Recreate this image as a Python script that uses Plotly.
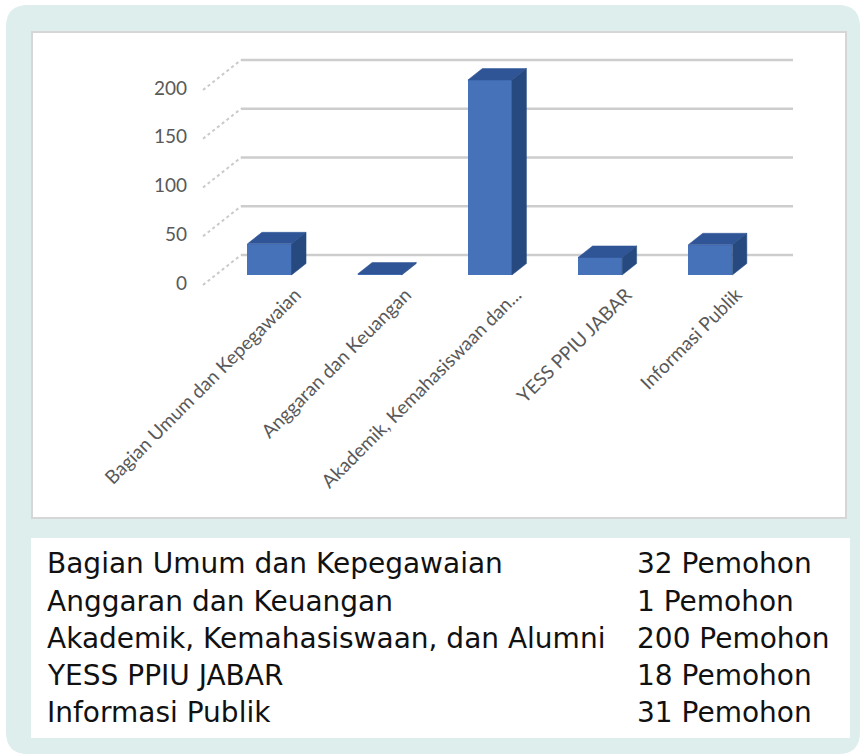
import plotly.graph_objects as go

# ---------------- data ----------------
categories = [
    "Bagian Umum dan Kepegawaian",
    "Anggaran dan Keuangan",
    "Akademik, Kemahasiswaan, dan Alumni",
    "YESS PPIU JABAR",
    "Informasi Publik",
]
axis_labels = [
    "Bagian Umum dan Kepegawaian",
    "Anggaran dan Keuangan",
    "Akademik, Kemahasiswaan dan...",
    "YESS PPIU JABAR",
    "Informasi Publik",
]
values = [32, 1, 200, 18, 31]
y_ticks = [0, 50, 100, 150, 200]
unit = "Pemohon"

# ---------------- layout constants (pixels) ----------------
W, H = 864, 756
L, R, T, B = 196, 800, 40, 292          # plot area
X0_PX, X_STEP = 269.5, 110.2            # category 0 centre, px per category
Y0_PX, Y_SCALE = 275.0, 0.975           # value 0 baseline, px per unit

x_range = [(L - X0_PX) / X_STEP, (R - X0_PX) / X_STEP]
y_range = [(Y0_PX - B) / Y_SCALE, (Y0_PX - T) / Y_SCALE]

BAR_W = 0.40
DEPTH_X = 14.5 / X_STEP
DEPTH_Y = 11.5 / Y_SCALE
GRID_X0 = (241 - X0_PX) / X_STEP
GRID_X1 = (793 - X0_PX) / X_STEP
GRID_DY = 20.0 / Y_SCALE
DIAG_DX = -38.0 / X_STEP
DIAG_DY = -30.0 / Y_SCALE

FRONT = "#4672BA"
TOP = "#2F5597"
SIDE = "#264A80"
TEAL = "#DDEEEC"


def pxx(px):
    return (px - L) / (R - L)


def pxy(py):
    return (B - py) / (B - T)


fig = go.Figure()

# back-wall gridlines and side-wall diagonals
for t in y_ticks:
    fig.add_trace(go.Scatter(
        x=[GRID_X0, GRID_X1], y=[t + GRID_DY, t + GRID_DY], mode="lines",
        line=dict(color="#CDCDCD", width=2.5), hoverinfo="skip",
        showlegend=False, zorder=0))
    fig.add_trace(go.Scatter(
        x=[GRID_X0 + DIAG_DX, GRID_X0], y=[t + GRID_DY + DIAG_DY, t + GRID_DY],
        mode="lines", line=dict(color="#CACACA", width=2, dash="dot"),
        hoverinfo="skip", showlegend=False, zorder=0))

# front faces
fig.add_trace(go.Bar(
    x=list(range(len(values))), y=values, width=BAR_W,
    marker=dict(color=FRONT, line=dict(width=0)),
    hoverinfo="skip", showlegend=False, zorder=2))

# top and side faces
for i, v in enumerate(values):
    xl, xr = i - BAR_W / 2, i + BAR_W / 2
    fig.add_trace(go.Scatter(
        x=[xl, xr, xr + DEPTH_X, xl + DEPTH_X, xl],
        y=[v, v, v + DEPTH_Y, v + DEPTH_Y, v],
        mode="lines", fill="toself", fillcolor=TOP,
        line=dict(color=TOP, width=0.5), hoverinfo="skip",
        showlegend=False, zorder=2))
    fig.add_trace(go.Scatter(
        x=[xr, xr + DEPTH_X, xr + DEPTH_X, xr, xr],
        y=[0, DEPTH_Y, v + DEPTH_Y, v, 0],
        mode="lines", fill="toself", fillcolor=SIDE,
        line=dict(color=SIDE, width=0.5), hoverinfo="skip",
        showlegend=False, zorder=2))

# ---------------- background boxes ----------------
def rounded_path(x0, y0, x1, y1, r):
    rx = r / (R - L)
    ry = r / (B - T)
    a, b, c, d = pxx(x0), pxy(y0), pxx(x1), pxy(y1)  # b top, d bottom
    return (f"M {a+rx},{b} L {c-rx},{b} Q {c},{b} {c},{b-ry} "
            f"L {c},{d+ry} Q {c},{d} {c-rx},{d} L {a+rx},{d} "
            f"Q {a},{d} {a},{d+ry} L {a},{b-ry} Q {a},{b} {a+rx},{b} Z")


shapes = [
    dict(type="path", xref="paper", yref="paper",
         path=rounded_path(6, 5, 860, 754, 22),
         fillcolor=TEAL, line=dict(width=0), layer="below"),
    dict(type="rect", xref="paper", yref="paper",
         x0=pxx(32), x1=pxx(846), y0=pxy(32), y1=pxy(518),
         fillcolor="white", line=dict(color="#D6D6D6", width=2), layer="below"),
    dict(type="rect", xref="paper", yref="paper",
         x0=pxx(31), x1=pxx(850), y0=pxy(538), y1=pxy(738),
         fillcolor="white", line=dict(width=0), layer="below"),
]

# ---------------- table text ----------------
annotations = []
row0, row_step = 564, 37.1
for k, (name, v) in enumerate(zip(categories, values)):
    yy = pxy(row0 + k * row_step)
    annotations.append(dict(
        xref="paper", yref="paper", x=pxx(45), y=yy, xanchor="left",
        yanchor="middle", text=name, showarrow=False,
        font=dict(family="DejaVu Sans", size=28, color="#111111")))
    annotations.append(dict(
        xref="paper", yref="paper", x=pxx(635), y=yy, xanchor="left",
        yanchor="middle", text=f"{v} {unit}", showarrow=False,
        font=dict(family="DejaVu Sans", size=28, color="#111111")))

fig.update_layout(
    width=W, height=H,
    margin=dict(l=L, r=W - R, t=T, b=H - B, autoexpand=False),
    paper_bgcolor="white", plot_bgcolor="rgba(0,0,0,0)",
    shapes=shapes, annotations=annotations,
    showlegend=False, bargap=0,
    xaxis=dict(range=x_range, showgrid=False, zeroline=False, showline=False,
               tickmode="array", tickvals=list(range(len(values))),
               ticktext=axis_labels, tickangle=-45, ticks="",
               ticklabelshift=26, ticklabelstandoff=-13,
               tickfont=dict(family="Lato", size=19, color="#595959"),
               fixedrange=True),
    yaxis=dict(range=y_range, showgrid=False, zeroline=False, showline=False,
               tickmode="array", tickvals=y_ticks, ticks="",
               ticklabelshift=8, ticklabelstandoff=8,
               tickfont=dict(family="Lato", size=19, color="#595959"),
               fixedrange=True),
)

fig.write_html("out.html", config={"displayModeBar": False},
               post_script="document.body.style.margin='0';")
